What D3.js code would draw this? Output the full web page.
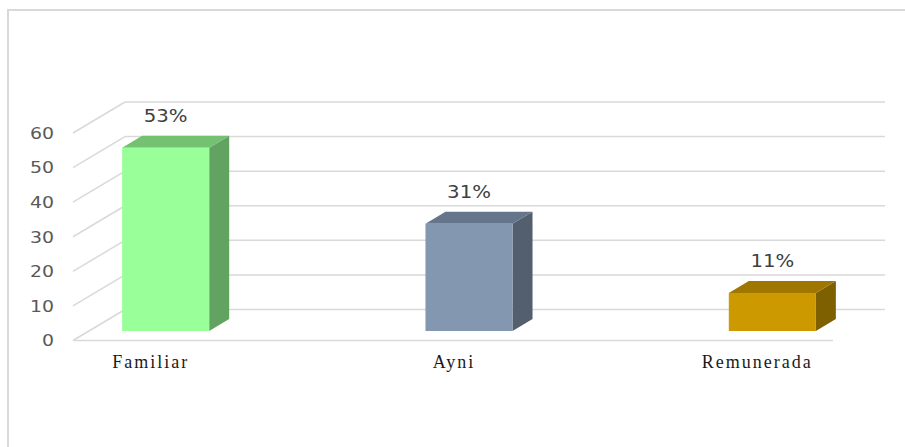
<!DOCTYPE html>
<html>
<head>
<meta charset="utf-8">
<script src="https://cdn.jsdelivr.net/npm/d3@7"></script>
<style>
  html, body { margin: 0; padding: 0; background: #fff; }
  svg { display: block; }
</style>
</head>
<body>
<svg id="chart" width="905" height="447"></svg>
<script>
// ---- data ----
const categories = ["Familiar", "Ayni", "Remunerada"];
const values = [53, 31, 11];
const valueLabels = ["53%", "31%", "11%"];
const tickValues = [0, 10, 20, 30, 40, 50, 60];
const frontColors = ["#99FF99", "#8497B0", "#CC9900"];
const topColors = ["#72C272", "#65758B", "#9F7700"];
const sideColors = ["#62A362", "#535E6E", "#7F6000"];

const svg = d3.select("#chart");

// outer border
svg.append("rect")
  .attr("x", 8).attr("y", 10)
  .attr("width", 910).attr("height", 450)
  .attr("fill", "none").attr("stroke", "#d9d9d9").attr("stroke-width", 2);

// geometry
const depthX = 52, depthY = 31;        // floor depth (front -> back)
const backLeft = 125, backRight = 885;
const y = d3.scaleLinear().domain([0, 60]).range([309.5, 102]); // back wall
const barDepthOffset = 21.5;           // bar front plane below back wall
const barDX = 20, barDY = -12;         // bar 3D depth

const x = d3.scaleBand().domain(categories)
  .range([14, 924]).paddingInner(0.713).paddingOuter(0.3565);

const grid = svg.append("g");
grid.selectAll("line.back").data(tickValues).join("line")
  .attr("x1", backLeft).attr("x2", backRight)
  .attr("y1", d => y(d)).attr("y2", d => y(d))
  .attr("stroke", "#d9d9d9").attr("stroke-width", 1.5);
grid.selectAll("line.diag").data(tickValues).join("line")
  .attr("x1", backLeft - depthX).attr("y1", d => y(d) + depthY)
  .attr("x2", backLeft).attr("y2", d => y(d))
  .attr("stroke", "#d9d9d9").attr("stroke-width", 1.5);
grid.append("line")
  .attr("x1", backLeft - depthX).attr("x2", backRight - depthX)
  .attr("y1", y(0) + depthY).attr("y2", y(0) + depthY)
  .attr("stroke", "#d9d9d9").attr("stroke-width", 1.5);

// y tick labels (horizontally stretched glyphs)
svg.append("g").selectAll("text").data(tickValues).join("text")
  .attr("transform", d => `translate(54,${y(d) + depthY}) scale(1.18,1)`)
  .attr("dy", "0.36em")
  .attr("text-anchor", "end")
  .attr("font-family", "DejaVu Sans, sans-serif")
  .attr("font-size", 16)
  .attr("fill", "#595959")
  .text(d => d);

// bars
const bars = svg.append("g").selectAll("g").data(categories).join("g");
bars.each(function(c, i) {
  const g = d3.select(this);
  const x0 = x(c), w = x.bandwidth();
  const yTop = y(values[i]) + barDepthOffset;
  const yBot = y(0) + barDepthOffset;
  g.append("path")
    .attr("d", `M${x0 + w},${yTop} L${x0 + w + barDX},${yTop + barDY} L${x0 + w + barDX},${yBot + barDY} L${x0 + w},${yBot} Z`)
    .attr("fill", sideColors[i]);
  g.append("path")
    .attr("d", `M${x0},${yTop} L${x0 + barDX},${yTop + barDY} L${x0 + w + barDX},${yTop + barDY} L${x0 + w},${yTop} Z`)
    .attr("fill", topColors[i]);
  g.append("rect")
    .attr("x", x0).attr("y", yTop)
    .attr("width", w).attr("height", yBot - yTop)
    .attr("fill", frontColors[i]);
  g.append("text")
    .attr("transform", `translate(${x0 + w / 2},${yTop + barDY - 14}) scale(1.16,1)`)
    .attr("text-anchor", "middle")
    .attr("font-family", "DejaVu Sans, sans-serif")
    .attr("font-size", 17)
    .attr("fill", "#404040")
    .text(valueLabels[i]);
});

// category labels
svg.append("g").selectAll("text").data(categories).join("text")
  .attr("x", d => x(d) + x.bandwidth() / 2 - 15)
  .attr("y", 368)
  .attr("text-anchor", "middle")
  .attr("font-family", "Liberation Serif, Times New Roman, serif")
  .attr("font-size", 18).attr("letter-spacing", 2)
  .attr("fill", "#1a1a1a")
  .text(d => d);
</script>
</body>
</html>
